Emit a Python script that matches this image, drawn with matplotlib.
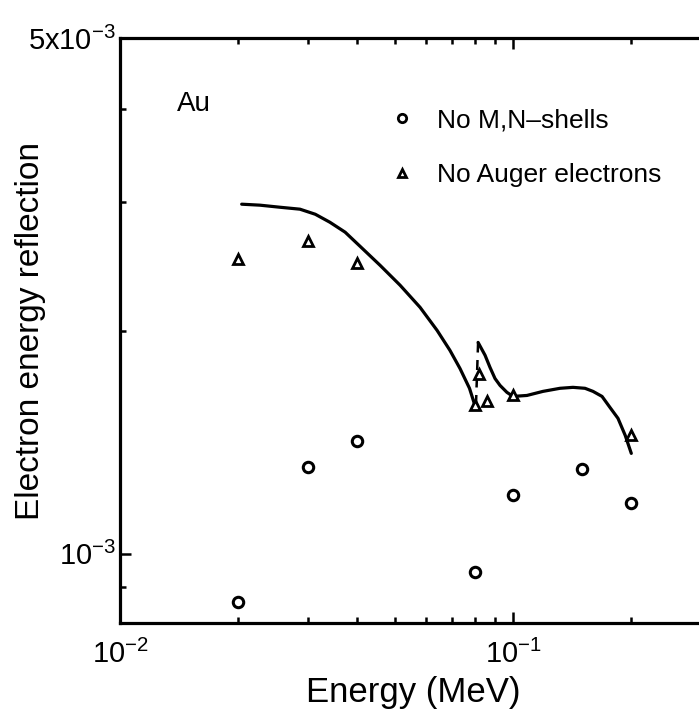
import matplotlib
matplotlib.use("Agg")
import matplotlib.pyplot as plt
from matplotlib.ticker import FixedLocator, FixedFormatter, NullFormatter

plt.rcParams['font.family'] = ['Liberation Sans', 'DejaVu Sans']
plt.rcParams['mathtext.fontset'] = 'custom'
plt.rcParams['mathtext.rm'] = 'Liberation Sans'
plt.rcParams['mathtext.it'] = 'Liberation Sans:italic'
plt.rcParams['mathtext.bf'] = 'Liberation Sans:bold'

# Full calculation (solid curve), below the K-edge of gold
curve_lo_e = [0.0204, 0.0227, 0.0255, 0.0287, 0.0314, 0.0342, 0.0374, 0.0408,
              0.0459, 0.0516, 0.0580, 0.0641, 0.0691, 0.0733, 0.0775, 0.0800]
curve_lo_r = [2.976e-3, 2.967e-3, 2.948e-3, 2.930e-3, 2.884e-3, 2.813e-3, 2.727e-3, 2.610e-3,
              2.459e-3, 2.311e-3, 2.157e-3, 2.007e-3, 1.886e-3, 1.782e-3, 1.675e-3, 1.588e-3]

# Full calculation above the K-edge
curve_hi_e = [0.0815, 0.0849, 0.0874, 0.0900, 0.0927, 0.0965, 0.1000, 0.1085, 0.1192,
              0.1317, 0.1421, 0.1525, 0.1598, 0.1685, 0.1765, 0.1850, 0.1930, 0.2000]
curve_hi_r = [1.933e-3, 1.857e-3, 1.788e-3, 1.727e-3, 1.690e-3, 1.654e-3, 1.633e-3, 1.638e-3, 1.659e-3,
              1.675e-3, 1.680e-3, 1.675e-3, 1.659e-3, 1.633e-3, 1.578e-3, 1.525e-3, 1.446e-3, 1.367e-3]

# Jump across the edge (dashed)
edge_e = [0.0805, 0.0815]
edge_r = [1.59e-3, 1.93e-3]

# Without M,N-shells
no_mn_e = [0.02, 0.03, 0.04, 0.08, 0.10, 0.15, 0.20]
no_mn_r = [8.6e-4, 1.31e-3, 1.42e-3, 9.45e-4, 1.20e-3, 1.30e-3, 1.17e-3]

# Without Auger electrons
no_auger_e = [0.02, 0.03, 0.04, 0.08, 0.082, 0.086, 0.10, 0.20]
no_auger_r = [2.51e-3, 2.65e-3, 2.48e-3, 1.59e-3, 1.75e-3, 1.61e-3, 1.64e-3, 1.45e-3]

y_major = [1e-3, 5e-3]
y_major_labels = [r'10$^{-3}$', r'5x10$^{-3}$']
y_minor = [8e-4, 9e-4, 2e-3, 3e-3, 4e-3]

W, H = 699, 719
fig = plt.figure(figsize=(W / 100, H / 100), dpi=100)
ax = fig.add_axes([120 / W, (H - 623) / H, (700.5 - 120) / W, (623 - 38) / H])

ax.set_xscale('log')
ax.set_yscale('log')
ax.set_xlim(0.01, 0.3)
ax.set_ylim(8.05e-4, 5e-3)

ax.plot(curve_lo_e, curve_lo_r, color='black', lw=2.3,
        solid_capstyle='round', solid_joinstyle='round')
ax.plot(curve_hi_e, curve_hi_r, color='black', lw=2.3,
        solid_capstyle='round', solid_joinstyle='round')
ax.plot(edge_e, edge_r, color='black', lw=1.8, linestyle=(0, (4, 3)))

ax.plot(no_mn_e, no_mn_r, linestyle='none', marker='o', ms=7.5, mfc='white',
        mec='black', mew=2.2, label='No M,N\u2013shells')
ax.plot(no_auger_e, no_auger_r, linestyle='none', marker='^', ms=7.5, mfc='white',
        mec='black', mew=2.0, label='No Auger electrons')

ax.yaxis.set_major_locator(FixedLocator(y_major))
ax.yaxis.set_major_formatter(FixedFormatter(y_major_labels))
ax.yaxis.set_minor_locator(FixedLocator(y_minor))
ax.yaxis.set_minor_formatter(NullFormatter())

ax.tick_params(which='both', direction='in', top=True, right=False, width=1.8)
ax.tick_params(which='major', length=8, labelsize=21)
ax.tick_params(axis='x', which='major', pad=12)
ax.tick_params(axis='y', which='major', pad=3)
ax.tick_params(which='minor', length=4)

for side in ['left', 'bottom', 'top']:
    ax.spines[side].set_linewidth(2.3)
ax.spines['right'].set_visible(False)

ax.set_xlabel('Energy (MeV)', fontsize=25, va='center')
ax.xaxis.set_label_coords(0.506, -0.118)
ax.set_ylabel('Electron energy reflection', fontsize=24, va='center')
ax.yaxis.set_label_coords(-0.155, 0.5)

ax.text(0.098, 0.887, 'Au', transform=ax.transAxes, fontsize=20,
        ha='left', va='center')

leg = ax.legend(loc='upper left', bbox_to_anchor=(0.465, 0.880), frameon=False,
                fontsize=19, numpoints=1, handlelength=0.9, handletextpad=0.87,
                labelspacing=1.18, borderaxespad=0, borderpad=0)
for h in leg.legend_handles:
    h.set_markersize(6)
    h.set_markeredgewidth(2.0)

fig.savefig('out.png', dpi=100)
